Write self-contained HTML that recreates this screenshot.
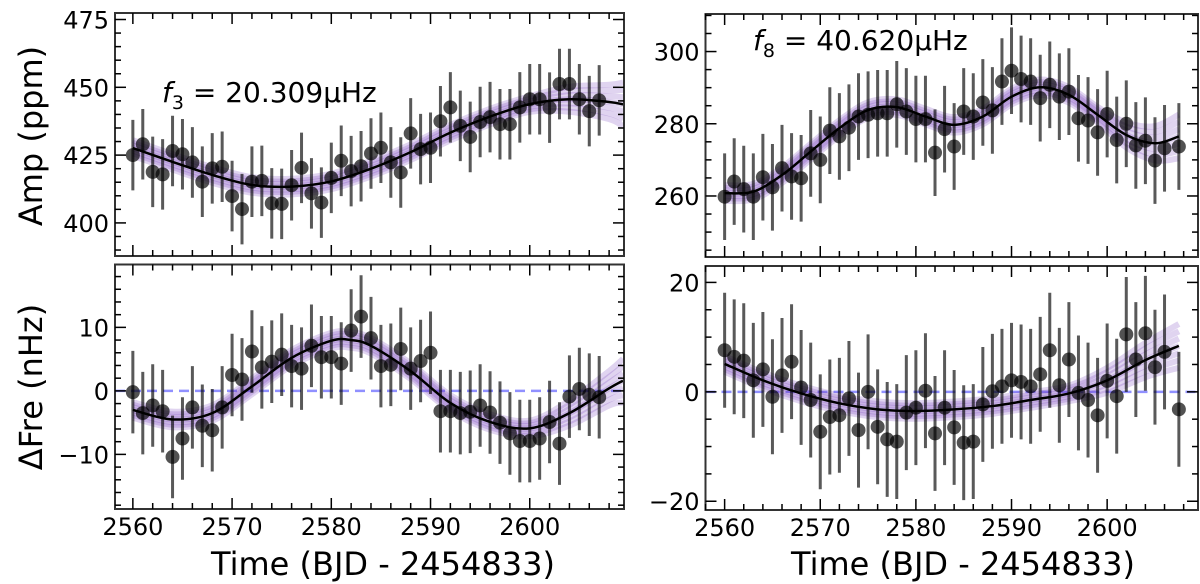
<!DOCTYPE html>
<html><head><meta charset="utf-8"><style>
html,body{margin:0;padding:0;background:#fff;}
svg{display:block;font-family:"DejaVu Sans","Liberation Sans",sans-serif;}
</style></head><body>
<svg id="fig" width="1200" height="584" viewBox="0 0 1200 584"></svg>
<script>
// ---- data ----
const daysL = [2560,2561,2562,2563,2564,2565,2566,2567,2568,2569,2570,2571,2572,2573,2574,2575,2576,2577,2578,2579,2580,2581,2582,2583,2584,2585,2586,2587,2588,2589,2590,2591,2592,2593,2594,2595,2596,2597,2598,2599,2600,2601,2602,2603,2604,2605,2606,2607];
const ampL = [425.0,429,418.8,417.9,426.5,425.3,422.3,415.2,420.1,420.7,409.9,405.1,415.2,415.5,407.2,407,413.9,420.3,410.9,407.5,416.6,422.9,419.1,420.9,425.6,427.7,422.3,418.6,433,427.2,427.7,437.5,442.6,435.8,431.7,437.2,439,436.4,436.4,442.6,445.6,445.6,442.5,451.2,451.2,445.6,441.2,445.2];
const ampErrL = 13;
const freL = [-0.2,-3.5,-2.3,-3.2,-10.4,-7.5,-2.6,-5.5,-6.2,-2.6,2.5,1.8,6.2,3.7,4.6,5.7,3.9,3.5,7.1,5.3,5.3,4.3,9.5,11.7,8.3,3.9,4.1,6.6,3.5,4.7,6.0,-3.2,-3.2,-3.5,-3.3,-2.3,-3.4,-5.0,-6.7,-7.9,-7.9,-7.5,-4.9,-8.3,-0.9,0.3,-0.6,-1.0];
const freErrL = 6.5;
const fitDaysL = [2560,2564,2568,2572,2576,2580,2584,2588,2592,2596,2600,2604,2608,2609.4];
const ampFitL = [427.6,422.5,417.7,414,413.4,415.3,420,426.1,433.3,439.2,443.8,445.6,444.6,443.7];
const fitDaysL2 = [2560,2564,2568,2572,2576,2580,2582,2584,2588,2592,2596,2600,2604,2608,2609.4];
const freFitL = [-3.0,-4.5,-3.5,0.7,5.2,7.9,8.0,7.1,3.1,-1.9,-4.9,-5.9,-3.5,0.4,1.6];

const daysR = [2560,2561,2562,2563,2564,2565,2566,2567,2568,2569,2570,2571,2572,2573,2574,2575,2576,2577,2578,2579,2580,2581,2582,2583,2584,2585,2586,2587,2588,2589,2590,2591,2592,2593,2594,2595,2596,2597,2598,2599,2600,2601,2602,2603,2604,2605,2606,2607.5];
const ampR = [259.8,264.0,261.9,259.8,265.2,262.4,267.7,265.4,264.9,271.8,270.0,278.1,276.5,278.9,282.0,282.5,282.9,282.9,285.4,283.4,281.3,281.3,272.0,278.5,273.7,283.4,282.0,285.9,283.7,291.7,294.7,292.4,291.7,287.1,290.8,287.5,288.9,281.5,280.9,277.6,282.7,275.5,280.0,274.0,275.3,269.8,273.2,273.7];
const ampErrR = 12;
const freR = [7.6,6.4,5.7,2.1,4.1,-0.9,3.0,5.5,0.8,-1.5,-7.3,-4.6,-4.3,-1.2,-7.0,0,-6.4,-8.7,-9.1,-3.8,-2.9,0.2,-7.6,-2.9,-6.5,-9.3,-9.1,-2.3,0.1,1.0,2.1,1.8,1.0,3.2,7.6,1.2,5.9,-0.2,-1.5,-4.3,2.0,-0.8,10.5,5.9,10.7,4.5,7.3,-3.2];
const freErrR = 10.5;
const fitDaysR = [2560,2563,2566,2569,2572,2575,2578,2581,2584,2587,2590,2593,2596,2599,2602,2605,2607.5];
const ampFitR = [260.8,261.2,265.8,272.3,278.8,283.8,284.6,282,279.7,282,287.5,290.1,288,282.5,276.9,274.6,276.5];
const fitDaysR2 = [2560,2564,2568,2572,2576,2580,2584,2588,2592,2596,2600,2604,2607.5];
const freFitR = [5.1,2.1,-0.3,-2.1,-3.2,-3.5,-3.2,-2.6,-1.5,-0.3,2.1,5.8,8.4];

const ticksX = [2560,2570,2580,2590,2600];
const ticksAmpL = [400,425,450,475];
const ticksFreL = [-10,0,10];
const ticksAmpR = [260,280,300];
const ticksFreR = [-20,0,20];

const NS = "http://www.w3.org/2000/svg";
const svg = document.getElementById('fig');
function mk(tag, attrs, parent){const e=document.createElementNS(NS,tag);for(const k in attrs)e.setAttribute(k,attrs[k]);(parent||svg).appendChild(e);return e;}

function smoothPath(pts){
  let d = `M${pts[0][0]},${pts[0][1]}`;
  for(let i=0;i<pts.length-1;i++){
    const p0=pts[Math.max(0,i-1)],p1=pts[i],p2=pts[i+1],p3=pts[Math.min(pts.length-1,i+2)];
    const c1=[p1[0]+(p2[0]-p0[0])/6,p1[1]+(p2[1]-p0[1])/6];
    const c2=[p2[0]-(p3[0]-p1[0])/6,p2[1]-(p3[1]-p1[1])/6];
    d+=` C${c1[0]},${c1[1]} ${c2[0]},${c2[1]} ${p2[0]},${p2[1]}`;
  }
  return d;
}

function panel(cfg){
  const g = mk('g',{});
  
  
  const X = v => cfg.x0 + (v - cfg.xmin)/(cfg.xmax-cfg.xmin)*(cfg.x1-cfg.x0);
  const Y = v => cfg.y1 - (v - cfg.ymin)/(cfg.ymax-cfg.ymin)*(cfg.y1-cfg.y0);
  const clipId = cfg.name+'-clip';
  const cp = mk('clipPath',{id:clipId},g);
  mk('rect',{x:cfg.x0,y:cfg.y0,width:cfg.x1-cfg.x0,height:cfg.y1-cfg.y0},cp);
  const inner = mk('g',{'clip-path':`url(#${clipId})`},g);
  if(cfg.zero){
    const z = mk('line',{x1:cfg.x0,x2:cfg.x1,y1:Y(0),y2:Y(0),stroke:'rgba(70,70,255,0.6)','stroke-width':2.5,'stroke-dasharray':'10,6'},inner);
    
    
  }
  const pts = cfg.fx.map((d,i)=>[X(d),Y(cfg.fy[i])]);
  for(let k=0;k<7;k++){
    const off = (k-3)*2.6;
    const b = mk('path',{d:smoothPath(pts.map((p,i)=>[p[0],p[1]+off*(1+ (i>=pts.length-3? (i-pts.length+4)*0.6:0))])),fill:'none',stroke:'rgba(115,60,185,0.22)','stroke-width':6},inner);
    
    
  }
  cfg.px.forEach((d,i)=>{
    const v = cfg.py[i], e = cfg.err;
    const eb = mk('line',{x1:X(d),x2:X(d),y1:Y(v-e),y2:Y(v+e),stroke:'rgba(0,0,0,0.65)','stroke-width':3},inner);
    
    
  });
  cfg.px.forEach((d,i)=>{
    const c = mk('circle',{cx:X(d),cy:Y(cfg.py[i]),r:7,fill:'rgba(0,0,0,0.68)'},inner);
    
    
  });
  const fl = mk('path',{d:smoothPath(pts),fill:'none',stroke:'#000','stroke-width':2.5},inner);
  
  
  const fr = mk('rect',{x:cfg.x0,y:cfg.y0,width:cfg.x1-cfg.x0,height:cfg.y1-cfg.y0,fill:'none',stroke:'#333','stroke-width':2},g);
  
  
  for(let d=Math.ceil(cfg.xmin/2)*2; d<=cfg.xmax; d+=2){
    const maj = d%10===0, L = maj?11:6, x=X(d);
    mk('line',{x1:x,x2:x,y1:cfg.y1,y2:cfg.y1-L,stroke:'#000','stroke-width':1.5},g);
    mk('line',{x1:x,x2:x,y1:cfg.y0,y2:cfg.y0+L,stroke:'#000','stroke-width':1.5},g);
  }
  if(cfg.xlabels){
    ticksX.forEach(t=>{
      const tx = mk('text',{x:X(t),y:cfg.y1+26,'font-size':24,'text-anchor':'middle',fill:'#000'},g);
      tx.textContent = t;
      
      
    });
  }
  const start = Math.ceil(cfg.ymin/cfg.minor)*cfg.minor;
  for(let v=start; v<=cfg.ymax+1e-9; v+=cfg.minor){
    const maj = cfg.yt.some(t=>Math.abs(t-v)<1e-6), L = maj?11:6, y=Y(v);
    mk('line',{x1:cfg.x0,x2:cfg.x0+L,y1:y,y2:y,stroke:'#000','stroke-width':1.5},g);
    mk('line',{x1:cfg.x1,x2:cfg.x1-L,y1:y,y2:y,stroke:'#000','stroke-width':1.5},g);
  }
  cfg.yt.forEach(t=>{
    const ty = mk('text',{x:cfg.x0-6,y:Y(t)+9,'font-size':24,'text-anchor':'end',fill:'#000'},g);
    ty.textContent = t<0 ? '\u2212'+Math.abs(t) : t;
    
    
  });
}

panel({name:'amp-panel-f3',x0:115,x1:624,y0:13,y1:256,xmin:2558.2,xmax:2609.5,ymin:387.8,ymax:477.4,minor:5,yt:ticksAmpL,px:daysL,py:ampL,err:ampErrL,fx:fitDaysL,fy:ampFitL,xlabels:false});
panel({name:'fre-panel-f3',x0:115,x1:624,y0:264.5,y1:509,xmin:2558.2,xmax:2609.5,ymin:-18.6,ymax:19.9,minor:2,yt:ticksFreL,px:daysL,py:freL,err:freErrL,fx:fitDaysL2,fy:freFitL,xlabels:true,zero:true});
panel({name:'amp-panel-f8',x0:705.5,x1:1198,y0:14,y1:257,xmin:2558,xmax:2609.5,ymin:243.1,ymax:310.4,minor:5,yt:ticksAmpR,px:daysR,py:ampR,err:ampErrR,fx:fitDaysR,fy:ampFitR,xlabels:false});
panel({name:'fre-panel-f8',x0:705.5,x1:1198,y0:266,y1:510,xmin:2558,xmax:2609.5,ymin:-21.6,ymax:23,minor:5,yt:ticksFreR,px:daysR,py:freR,err:freErrR,fx:fitDaysR2,fy:freFitR,xlabels:true,zero:true});

function txt(s,attrs,name){const t=mk('text',attrs);t.innerHTML=s;return t;}
txt('Amp (ppm)',{x:0,y:0,'font-size':32,'text-anchor':'middle',transform:'translate(42,136) rotate(-90)'},'y-axis-title-amp');
txt('ΔFre (nHz)',{x:0,y:0,'font-size':32,'text-anchor':'middle',transform:'translate(42,387) rotate(-90)'},'y-axis-title-fre');
txt('Time (BJD - 2454833)',{x:383,y:575,'font-size':32,'text-anchor':'middle'},'x-axis-title-left');
txt('Time (BJD - 2454833)',{x:963,y:575,'font-size':32,'text-anchor':'middle'},'x-axis-title-right');
txt('<tspan font-style="italic">f</tspan><tspan font-size="19" dy="7">3</tspan><tspan dy="-7"> = 20.309μHz</tspan>',{x:162,y:102,'font-size':28},'annotation-f3');
txt('<tspan font-style="italic">f</tspan><tspan font-size="19" dy="7">8</tspan><tspan dy="-7"> = 40.620μHz</tspan>',{x:753,y:50,'font-size':28},'annotation-f8');
</script>
</body></html>
